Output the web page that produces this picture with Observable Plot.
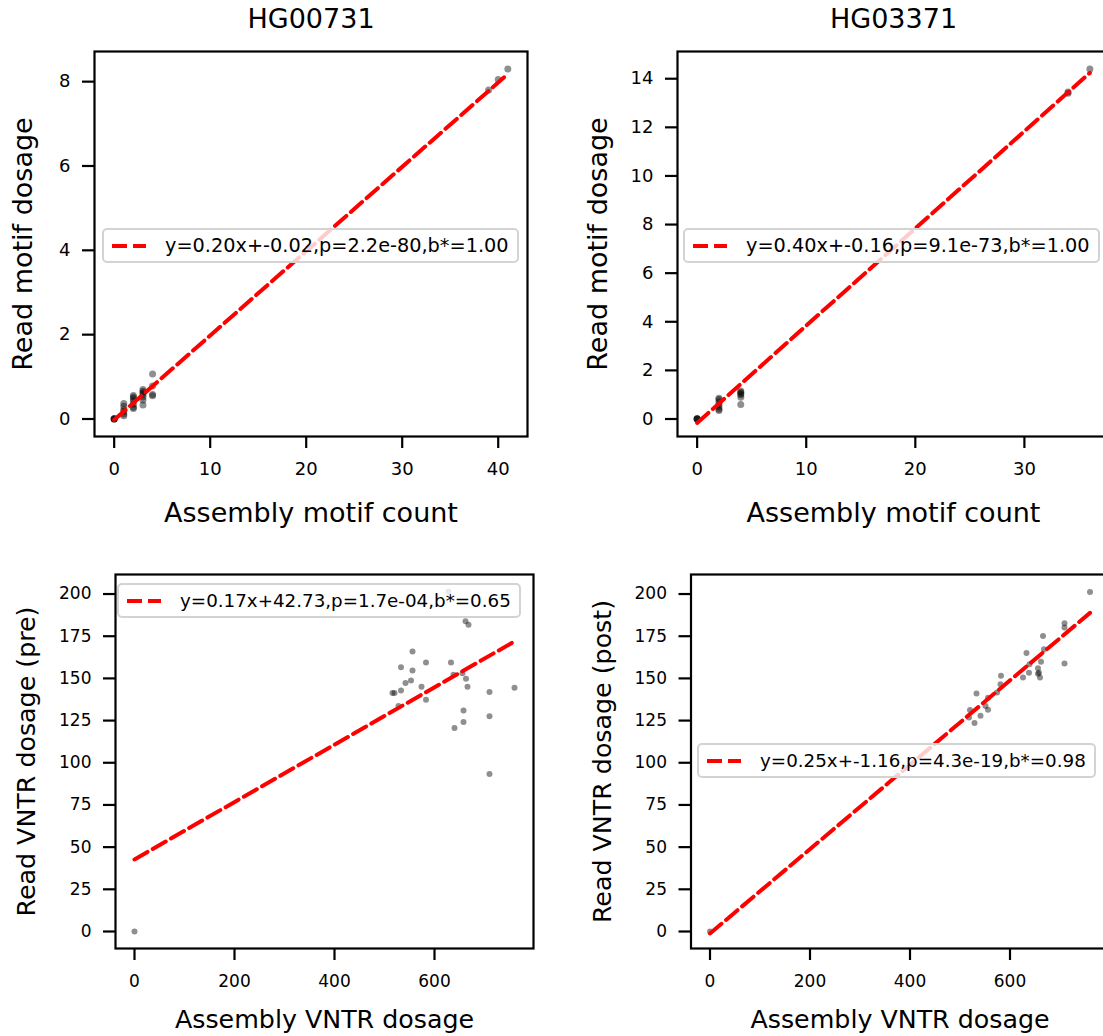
<!DOCTYPE html>
<html><head><meta charset="utf-8">
<script src="https://cdn.jsdelivr.net/npm/d3@7"></script>
<script src="https://cdn.jsdelivr.net/npm/@observablehq/plot@0.6"></script>
<style>
body{margin:0;background:white;}
#fig{position:relative;width:1103px;height:1036px;overflow:hidden;background:white;font-family:"DejaVu Sans",sans-serif;}
.panel{position:absolute;}
.legend{position:absolute;box-sizing:border-box;border:2px solid #d3d3d3;border-radius:5px;background:rgba(255,255,255,0.8);line-height:31px;padding:0 8px 0 61px;white-space:nowrap;color:#000;}
.legend svg{position:absolute;left:6px;top:13px;}
</style></head><body><div id="fig"></div><script>
// ---- data ----
const titles = ["HG00731", "HG03371"];
const xLabels = ["Assembly motif count", "Assembly motif count", "Assembly VNTR dosage", "Assembly VNTR dosage"];
const yLabels = ["Read motif dosage", "Read motif dosage", "Read VNTR dosage (pre)", "Read VNTR dosage (post)"];

const p1X = [0,0,0,0, 1,1,1,1,1,1, 2,2,2,2,2,2,2, 3,3,3,3,3,3,3, 4,4,4,4, 39,40,41];
const p1Y = [0,0,0,0.01, 0.08,0.12,0.18,0.22,0.3,0.37, 0.25,0.28,0.35,0.42,0.48,0.52,0.56, 0.33,0.45,0.52,0.58,0.62,0.66,0.7, 0.55,0.58,0.78,1.07, 7.8,8.05,8.3];

const p2X = [0,0,0,0, 2,2,2,2,2,2,2, 4,4,4,4,4,4, 34,34,36];
const p2Y = [0,0,0,0.02, 0.35,0.4,0.5,0.6,0.7,0.8,0.85, 0.6,0.9,1.0,1.05,1.1,1.15, 13.4,13.45,14.4];

const p3X = [0, 628,662,668,556,533,556,583,633,542,553, 533,516,520,574,583,528,638,656,663,666, 710,760,658,658,640,710,710];
const p3Y = [0, 201.5,183.8,181.8,165.9,156.6,154.7,159.4,159.4,147.2,148.8, 142.9,141.3,141.3,145,137.4,133.6,152.1,153.1,149.8,145, 141.9,144.5,131,124.1,120.6,127.5,93.4];

const p4X = [0, 760,709,709,709,666,668,633,662,639,638, 626,656,658,660,656,582,581,574,533,556, 551,556,520,518,541,529];
const p4Y = [0, 201.2,182.7,180.1,158.8,175.1,167.3,165.1,159.8,158.4,153.4, 150.5,156,153.4,150.5,152.7,151.5,146.6,141.6,141,138.6, 133.7,131.4,131.2,126.8,127.8,123.5];

const fitSlopes = [0.20, 0.40, 0.17, 0.25];
const fitIntercepts = [-0.02, -0.16, 42.73, -1.16];
const legendLabels = [
  "y=0.20x+-0.02,p=2.2e-80,b*=1.00",
  "y=0.40x+-0.16,p=9.1e-73,b*=1.00",
  "y=0.17x+42.73,p=1.7e-04,b*=0.65",
  "y=0.25x+-1.16,p=4.3e-19,b*=0.98"
];
const xTicks = [[0,10,20,30,40],[0,10,20,30],[0,200,400,600],[0,200,400,600]];
const yTicks = [[0,2,4,6,8],[0,2,4,6,8,10,12,14],[0,25,50,75,100,125,150,175,200],[0,25,50,75,100,125,150,175,200]];

// ---- helpers ----
const pad = ([a, b]) => { const m = (b - a) * 0.05; return [a - m, b + m]; };
const xsAll = [p1X, p2X, p3X, p4X];
const ysAll = [p1Y, p2Y, p3Y, p4Y];
const bottomXDomain = pad(d3.extent(p3X.concat(p4X)));
const bottomYDomain = pad(d3.extent(p3Y.concat(p4Y)));
const xDomains = [pad(d3.extent(p1X)), pad(d3.extent(p2X)), bottomXDomain, bottomXDomain];
const yDomains = [pad(d3.extent(p1Y)), pad(d3.extent(p2Y)), bottomYDomain, bottomYDomain];

// layout (pixels) and font sizes
const geo = [
  {left:0,   top:0,   w:560, h:545, ml:94,    mr:33,   mt:51, mb:109, xdy:77, ydx:-71, tdy:-32, r:3.5, lab:27, tick:18, leg:19.3},
  {left:560, top:0,   w:560, h:545, ml:117,   mr:11,   mt:51, mb:109, xdy:77, ydx:-79, tdy:-32, r:3.5, lab:27, tick:18, leg:19.3},
  {left:0,   top:545, w:560, h:491, ml:115,   mr:27,   mt:29, mb:88,  xdy:71, ydx:-89, r:3, lab:25.3, tick:17, leg:18.3},
  {left:560, top:545, w:560, h:491, ml:130.5, mr:11.5, mt:29, mb:88,  xdy:71, ydx:-88, r:3, lab:25.3, tick:17, leg:18.3}
];
const legendPos = [
  {left:102, top:228}, {left:683, top:228}, {left:117, top:583}, {left:697, top:743}
];

const fig = document.getElementById("fig");
for (let i = 0; i < 4; i++) {
  const g = geo[i];
  const pts = xsAll[i].map((x, j) => ({x, y: ysAll[i][j]}));
  const ext = d3.extent(xsAll[i]);
  const fit = ext.map(x => ({x, y: fitSlopes[i] * x + fitIntercepts[i]}));
  const marks = [
    Plot.frame({stroke: "black", strokeWidth: 2.2}),
    Plot.dot(pts, {x: "x", y: "y", r: g.r, fill: "black", fillOpacity: 0.44, stroke: "none"}),
    Plot.line(fit, {x: "x", y: "y", stroke: "#ff0000", strokeWidth: 4, strokeDasharray: "15,6"}),
    Plot.axisX({ticks: xTicks[i], tickSize: 12, tickPadding: 14, fontSize: g.tick, strokeWidth: 2.2, label: null, tickFormat: d => String(d), fill: "black"}),
    Plot.axisY({ticks: yTicks[i], tickSize: 12, tickPadding: 12, fontSize: g.tick, strokeWidth: 2.2, label: null, tickFormat: d => String(d), fill: "black"}),
    Plot.text([xLabels[i]], {text: d => d, frameAnchor: "bottom", textAnchor: "middle", dy: g.xdy, fontSize: g.lab, lineAnchor: "middle", fill: "black"}),
    Plot.text([yLabels[i]], {text: d => d, frameAnchor: "left", textAnchor: "middle", dx: g.ydx, rotate: -90, fontSize: g.lab, lineAnchor: "middle", fill: "black"})
  ];
  if (i < 2) marks.push(Plot.text([titles[i]], {text: d => d, frameAnchor: "top", textAnchor: "middle", dy: g.tdy, fontSize: g.lab, lineAnchor: "middle", fill: "black"}));
  const svg = Plot.plot({
    width: g.w, height: g.h,
    marginLeft: g.ml, marginRight: g.mr, marginTop: g.mt, marginBottom: g.mb,
    x: {domain: xDomains[i], label: null},
    y: {domain: yDomains[i], label: null},
    style: {fontFamily: "DejaVu Sans", fontSize: g.tick + "px", overflow: "visible", maxWidth: "none", background: "transparent", color: "black"},
    marks
  });
  svg.classList.add("panel");
  svg.style.left = g.left + "px";
  svg.style.top = g.top + "px";
  svg.style.position = "absolute";
  fig.appendChild(svg);
}
// legends
for (let i = 0; i < 4; i++) {
  const d = document.createElement("div");
  d.className = "legend";
  d.style.left = legendPos[i].left + "px";
  d.style.top = legendPos[i].top + "px";
  d.style.fontSize = geo[i].leg + "px";
  d.innerHTML = '<svg width="40" height="6"><line x1="2" x2="36" y1="3" y2="3" stroke="#ff0000" stroke-width="4" stroke-dasharray="15,6"/></svg>';
  d.appendChild(document.createTextNode(legendLabels[i]));
  fig.appendChild(d);
}
</script></body></html>
